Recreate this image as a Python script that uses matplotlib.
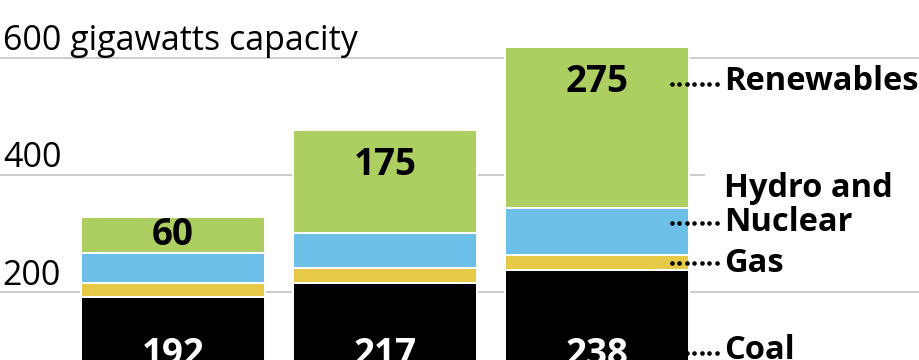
# Stacked bars of power capacity by source, three periods,
# with value labels and dotted leaders to the series names on the right.
import numpy as np
import matplotlib
matplotlib.use("Agg")
import matplotlib.pyplot as plt

plt.rcParams["font.family"] = ["Open Sans", "DejaVu Sans"]

# data (gigawatts)
coal = [192, 217, 238]
gas = [24, 25, 25]
hydro_nuclear = [52, 60, 80]
renewables = [60, 175, 275]

grid_values = [200, 400, 600]
grid_labels = ["200", "400", "600 gigawatts capacity"]

series_names = ["Renewables", "Hydro and\nNuclear", "Gas", "Coal"]

colors = {
    "coal": "#000000",
    "gas": "#e6c946",
    "hydro": "#6cbfe6",
    "renew": "#adcf61",
}

fig = plt.figure(figsize=(9.2, 3.6), dpi=100)
ax = fig.add_axes([0, 0, 1, 1])
xmin, xmax = -0.816, 3.524
ax.set_xlim(xmin, xmax)
ax.set_ylim(85.1, 697.9)
ax.axis("off")

x = np.arange(len(coal))
width = 0.868

# gridlines and their labels
for v, lab in zip(grid_values, grid_labels):
    right = 2.509 if v == 400 else xmax
    ax.hlines(v, xmin, right, color="#c8c8c8", lw=1.3, zorder=0)
    ax.annotate(lab, xy=(xmin, v), xytext=(2, 5.5), textcoords="offset points",
                ha="left", va="baseline", fontsize=24.5, color="black")

# stacked bars
bottom = np.zeros(len(coal))
for vals, key in [(coal, "coal"), (gas, "gas"),
                  (hydro_nuclear, "hydro"), (renewables, "renew")]:
    ax.bar(x, vals, width, bottom=bottom, color=colors[key],
           edgecolor="white", linewidth=1.4, zorder=2)
    bottom = bottom + np.array(vals)

# value labels: renewables near top of segment, coal low in bar
base_ren = np.array(coal) + np.array(gas) + np.array(hydro_nuclear)
for i, r in enumerate(renewables):
    top = base_ren[i] + r
    y = max(base_ren[i] + r / 2, top - 60)
    ax.text(x[i], y, str(r), ha="center", va="center", fontsize=26.5,
            fontweight="bold", color="black", zorder=3)
for i, c in enumerate(coal):
    ax.text(x[i], 94, str(c), ha="center", va="center", fontsize=26.5,
            fontweight="bold", color="white", zorder=3)

# series names with dotted leaders
label_y = [558.8, 348, 249.7, 102]
leader_y = [555, 318.8, 250.7, 97.6]
lx = 2.6
for name, ly, dy in zip(series_names, label_y, leader_y):
    ax.text(lx, ly, name, ha="left", va="center", fontsize=23.5,
            fontweight="bold", color="black", linespacing=1.05, zorder=3)
    xs = np.linspace(2.354, 2.566, 7)
    ax.plot(xs, [dy] * len(xs), "o", ms=3.3, color="black", mew=0, zorder=4)

fig.savefig("out.png", dpi=100)
